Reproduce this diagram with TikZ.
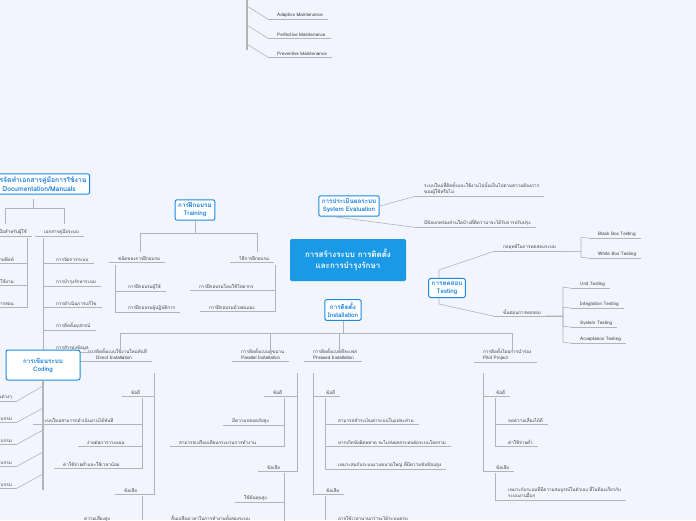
\documentclass[tikz,border=0pt]{standalone}
\usepackage{fontspec}
\setmainfont[Script=Thai]{Loma}
\usetikzlibrary{positioning}
\definecolor{bg}{HTML}{F2F5FD}
\definecolor{bbl}{HTML}{1A8AE0}
\definecolor{tbl}{HTML}{1A7FE0}
\definecolor{cbl}{HTML}{1A99E6}
\definecolor{lg}{HTML}{B4B4B4}
\tikzset{
  box/.style={draw=bbl, line width=1pt, rounded corners=2pt, fill=white, text=tbl,
    font=\bfseries\fontsize{6.3}{8}\selectfont, align=center, inner sep=3pt},
  leaf/.style={font=\fontsize{4.6}{6}\selectfont, inner sep=1pt, anchor=base west, align=left, text=black!75},
  ln/.style={draw=lg, line width=.6pt},
  bar/.style={draw=lg, line width=2pt},
}
\newcommand\leaf[3]{\node[leaf] (#1) at (#2) {#3};
  \draw[ln] ([xshift=-8pt,yshift=-1pt]#1.south west) -- ([xshift=4pt,yshift=-1pt]#1.south east);}
\newcommand\rleaf[3]{\node[leaf, anchor=base east] (#1) at (#2) {#3};
  \draw[ln] ([xshift=-8pt,yshift=-1pt]#1.south west) -- ([xshift=4pt,yshift=-1pt]#1.south east);}
\begin{document}
\begin{tikzpicture}[x=1pt, y=-1pt]
\fill[bg] (0,0) rectangle (696,520);
\clip (0,0) rectangle (696,520);

% centre
\node[fill=cbl, rounded corners=2pt, text=white, font=\bfseries\fontsize{8}{11}\selectfont,
  align=center, minimum width=116pt, minimum height=42pt] (root) at (348,260)
  {การสร้างระบบ การติดตั้ง\\และการบำรุงรักษา};

% maintenance (top)
\draw[bar] (247,0) -- (247,50);
\leaf{am}{276,16}{Adaptive Maintenance}
\leaf{pm}{276,36}{Perfective Maintenance}
\leaf{vm}{276,55}{Preventive Maintenance}
\draw[ln] (262,-2) -- (345,-2);
\foreach \n in {am,pm,vm} \draw[ln] (247,0 |- \n.south) ++(0,-12) -- ([xshift=-8pt,yshift=-1pt]\n.south west);

% evaluation
\node[box] (eval) at (349,206) {การประเมินผลระบบ\\System Evaluation};
\leaf{ev1}{423,193}{ระบบใหม่ที่ติดตั้งและใช้งานไปนั้นเป็นไปตามความต้องการ\\ของผู้ใช้หรือไม่}
\leaf{ev2}{423,224}{มีข้อบกพร่องส่วนใดบ้างที่คิดว่าน่าจะได้รับการปรับปรุง}
\draw[ln] (eval.east) -- ([xshift=-8pt,yshift=-1pt]ev1.south west);
\draw[ln] ([xshift=-15pt]eval.south) -- ([xshift=-8pt,yshift=-1pt]ev2.south west);

% testing
\node[box] (test) at (447,288) {การทดสอบ\\Testing};
\leaf{ts}{502,248}{กลยุทธ์ในการทดสอบระบบ}
\leaf{tp}{502,314}{ขั้นตอนการทดสอบ}
\draw[ln] ([xshift=-8pt]test.north) -- ++(0,-8) -- ([xshift=-8pt,yshift=-1pt]ts.south west);
\draw[ln] ([xshift=-8pt]test.south) -- ++(0,6) -- ([xshift=-8pt,yshift=-1pt]tp.south west);
\leaf{bb}{597,235}{Black Box Testing}
\leaf{wb}{597,255}{White Box Testing}
\foreach \n in {bb,wb} \draw[ln] ([xshift=4pt,yshift=-1pt]ts.south east) -| (581,0 |- \n.south) -- ([xshift=-8pt,yshift=-1pt]\n.south west);
\leaf{ut}{579,285}{Unit Testing}
\leaf{it}{579,305}{Integration Testing}
\leaf{st}{579,324}{System Testing}
\leaf{at}{579,340}{Acceptance Testing}
\foreach \n in {ut,it,st,at} \draw[ln] ([xshift=4pt,yshift=-1pt]tp.south east) -| (563,0 |- \n.south) -- ([xshift=-8pt,yshift=-1pt]\n.south west);

% installation
\node[box] (inst) at (343,310) {การติดตั้ง\\Installation};
\coordinate (bus) at (343,333);
\draw[ln] (inst.south) -- (bus);
\draw[ln] (120,333) -- (512,333);
\leaf{di}{87,359}{การติดตั้งแบบใช้งานใหม่ทันที\\\hspace*{8pt}Direct Installation}
\leaf{pa}{240,359}{การติดตั้งแบบคู่ขนาน\\Parallel Installation}
\leaf{ph}{312,359}{การติดตั้งแบบทีละเฟส\\Phrased Installation}
\leaf{pi}{482,359}{การติดตั้งโดยการนำร่อง\\Pilot Project}
\draw[ln] (120,333) -- (120,352);
\draw[ln] (270,333) -- (270,352);
\draw[ln] (339,333) -- (339,352);
\draw[ln] (512,333) -- (512,352);

% direct
\leaf{dig}{130,394}{ข้อดี}
\leaf{dib}{123,492}{ข้อเสีย}
\leaf{dg1}{41,422}{ระบบใหม่สามารถดำเนินงานได้ทันที}
\leaf{dg2}{86,444}{ง่ายต่อการวางแผน}
\leaf{dg3}{62,466}{ค่าใช้จ่ายต่ำและใช้เวลาน้อย}
\leaf{db1}{83,520}{ความเสี่ยงสูง}
\foreach \n in {dig,dib} \draw[ln] (154,373) |- ([xshift=4pt,yshift=-1pt]\n.south east);
\foreach \n in {dg1,dg2,dg3} \draw[ln] (142,398) |- ([xshift=4pt,yshift=-1pt]\n.south east);
\draw[ln] (142,496) -- (142,520);

% parallel
\leaf{pag}{272,394}{ข้อดี}
\leaf{pab}{266,469}{ข้อเสีย}
\leaf{pg1}{231,422}{มีความปลอดภัยสูง}
\leaf{pg2}{178,444}{สามารถเปรียบเทียบกระบวนการทำงาน}
\leaf{pb1}{243,499}{ใช้ต้นทุนสูง}
\leaf{pb2}{170,520}{สิ้นเปลืองเวลาในการทำงานทั้งสองระบบ}
\foreach \n in {pag,pab} \draw[ln] (297,373) |- ([xshift=4pt,yshift=-1pt]\n.south east);
\foreach \n in {pg1,pg2} \draw[ln] (284,398) |- ([xshift=4pt,yshift=-1pt]\n.south east);
\foreach \n in {pb1,pb2} \draw[ln] (284,473) |- ([xshift=4pt,yshift=-1pt]\n.south east);

% phased
\leaf{phg}{325,394}{ข้อดี}
\leaf{phb}{325,492}{ข้อเสีย}
\leaf{hg1}{337,422}{สามารถชำระเงินค่าระบบในแต่ละส่วน}
\leaf{hg2}{337,444}{หากเกิดข้อผิดพลาด จะไม่ส่งผลกระทบต่อระบบโดยรวม}
\leaf{hg3}{337,466}{เหมาะสมกับระบบงานขนาดใหญ่ ที่มีความซับซ้อนสูง}
\leaf{hb1}{337,520}{อาจใช้เวลานานกว่าจะได้ระบบครบ}
\foreach \n in {phg,phb} \draw[ln] (313,373) |- ([xshift=-8pt,yshift=-1pt]\n.south west);
\foreach \n in {hg1,hg2,hg3} \draw[ln] (325,398) |- ([xshift=-8pt,yshift=-1pt]\n.south west);
\draw[ln] (325,496) -- (325,520);

% pilot
\leaf{pig}{495,394}{ข้อดี}
\leaf{pib}{495,469}{ข้อเสีย}
\leaf{ig1}{507,422}{ลดความเสี่ยงได้ดี}
\leaf{ig2}{507,444}{ค่าใช้จ่ายต่ำ}
\leaf{ib1}{507,497}{เหมาะกับระบบที่มีความสมบูรณ์ในตัวเอง ที่ไม่ต้องเกี่ยวกับ\\ระบบงานอื่นๆ}
\foreach \n in {pig,pib} \draw[ln] (483,373) |- ([xshift=-8pt,yshift=-1pt]\n.south west);
\foreach \n in {ig1,ig2} \draw[ln] (495,398) |- ([xshift=-8pt,yshift=-1pt]\n.south west);
\draw[ln] (495,473) |- ([xshift=-8pt,yshift=-1pt]ib1.south west);

% training
\node[box] (train) at (195,210) {การฝึกอบรม\\Training};
\draw[ln] (train.south) -- (195,233);
\draw[ln] (140,233) -- (257,233);
\leaf{tk}{117,260}{ชนิดของการฝึกอบรม}
\leaf{tm}{238,260}{วิธีการฝึกอบรม}
\draw[ln] (140,233) -- (140,252);
\draw[ln] (257,233) -- (257,252);
\leaf{tk1}{127,288}{การฝึกอบรมผู้ใช้}
\leaf{tk2}{127,309}{การฝึกอบรมผู้ปฏิบัติการ}
\foreach \n in {tk1,tk2} \draw[ln] (115,265) |- ([xshift=-8pt,yshift=-1pt]\n.south west);
\leaf{tm1}{198,288}{การฝึกอบรมโดยใช้วิทยากร}
\leaf{tm2}{208,309}{การฝึกอบรมด้วยตนเอง}
\foreach \n in {tm1,tm2} \draw[ln] (275,265) |- ([xshift=4pt,yshift=-1pt]\n.south east);

% documentation
\node[box, anchor=east, font=\bfseries\fontsize{6.8}{8.5}\selectfont] (doc) at (90,184) {การจัดทำเอกสารคู่มือการใช้งาน\\Documentation/Manuals};
\draw[ln] (33,199) -- (33,208);
\draw[ln] (5,208) -- (64,208);
\draw[ln] (5,208) -- (5,224);
\draw[ln] (64,208) -- (64,224);
\rleaf{du}{28,233}{คู่มือสำหรับผู้ใช้}
\leaf{ds}{43,233}{เอกสารคู่มือระบบ}
\rleaf{du1}{15,261}{คำอธิบายฟิลด์}
\rleaf{du2}{15,283}{วิธีการใช้งาน}
\rleaf{du3}{15,305}{บทเรียนการสอน}
\foreach \n in {du1,du2,du3} \draw[ln] (27,238) |- ([xshift=4pt,yshift=-1pt]\n.south east);
\leaf{ds1}{55,261}{การจัดการระบบ}
\leaf{ds2}{55,283}{การบำรุงรักษาระบบ}
\leaf{ds3}{55,305}{การดำเนินการแก้ไข}
\leaf{ds4}{55,327}{การติดตั้งอุปกรณ์}
\leaf{ds5}{55,349}{การสำรองข้อมูล}
\foreach \n in {ds1,ds2,ds3,ds4,ds5} \draw[ln] (43,238) |- ([xshift=-8pt,yshift=-1pt]\n.south west);

% coding
\node[box, minimum width=74pt, minimum height=30pt] (code) at (43,365) {การเขียนระบบ\\Coding};
\draw[bar] (code.south) -- (43,490);
\foreach \y/\t [count=\i] in {398/ขั้นตอนต่างๆ,420/การเขียนโปรแกรม,442/การทดสอบโปรแกรม,464/การแก้ไขโปรแกรม,486/เอกสารโปรแกรม} {
  \rleaf{cd\i}{13,\y}{\t}
  \draw[ln] (43,\y-12) -- ([xshift=4pt,yshift=-1pt]cd\i.south east);
}
\end{tikzpicture}
\end{document}
